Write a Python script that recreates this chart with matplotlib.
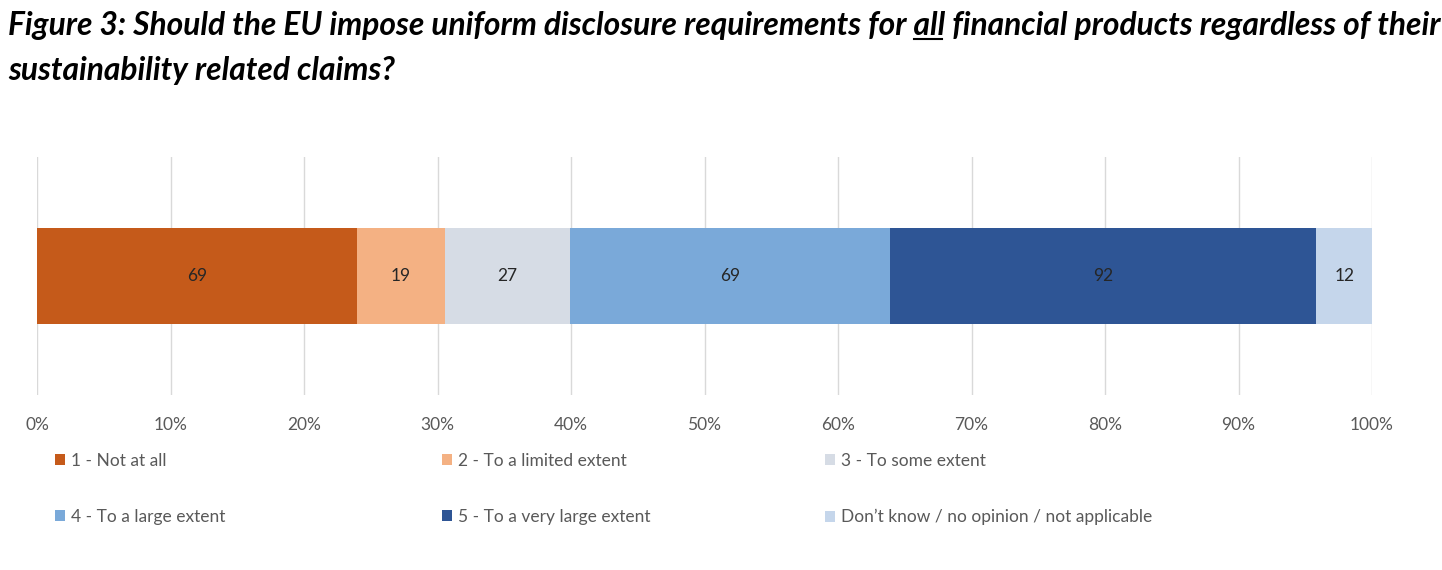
import matplotlib
matplotlib.use("Agg")
import matplotlib.pyplot as plt
import numpy as np

# data
categories = ["1 - Not at all", "2 - To a limited extent", "3 - To some extent",
              "4 - To a large extent", "5 - To a very large extent",
              "Don\u2019t know / no opinion / not applicable"]
counts = [69, 19, 27, 69, 92, 12]
colors = ["#C55A1A", "#F4B183", "#D6DCE5", "#7AA9D9", "#2E5595", "#C5D6EB"]
xticks = np.arange(0, 101, 10)

title_pre = "Figure 3: Should the EU impose uniform disclosure requirements for "
title_ul = "all"
title_post = " financial products regardless of their"
title_line2 = "sustainability related claims?"

W, H = 1442, 570
fig = plt.figure(figsize=(W / 100, H / 100), dpi=100)
ax = fig.add_axes([37 / W, 1 - 395 / H, (1372 - 37) / W, (395 - 157) / H])

shares = np.array(counts) / sum(counts) * 100
left = 0
for val, sh, col, lab in zip(counts, shares, colors, categories):
    ax.barh(0, sh, left=left, height=0.403, color=col, label=lab, zorder=3)
    ax.text(left + sh / 2, 0, str(val), ha="center", va="center",
            fontsize=12.5, color="#262626", family="Lato", zorder=4)
    left += sh

ax.set_xlim(0, 100)
ax.set_ylim(-0.5, 0.5)
ax.set_yticks([])
ax.set_xticks(xticks)
ax.set_xticklabels([f"{t}%" for t in xticks], fontsize=12.5, color="#595959", family="Lato")
ax.tick_params(axis="x", length=0, pad=16)
ax.grid(axis="x", color="#D9D9D9", linewidth=1, zorder=0)
for s in ax.spines.values():
    s.set_visible(False)

# legend, three columns of two rows
handles, labels = ax.get_legend_handles_labels()
col_x = [55, 442, 825]
for c in range(3):
    idx = [c, c + 3]
    fig.legend([handles[i] for i in idx], [labels[i] for i in idx],
               loc="upper left", bbox_to_anchor=(col_x[c] / W, 1 - 453 / H),
               frameon=False, handlelength=0.6, handleheight=0.6,
               handletextpad=0.3, labelspacing=2.3, borderpad=0, borderaxespad=0,
               labelcolor="#595959", prop={"family": "Lato", "size": 12.5})

# title with underlined word
tkw = dict(fontsize=22.9, fontweight="bold", fontstyle="italic", family="Lato", color="black")
fig.text(8 / W, 1 - 35 / H, title_pre + title_ul + title_post, va="baseline", **tkw)
fig.text(8 / W, 1 - 80 / H, title_line2, va="baseline", **tkw)
fig.canvas.draw()
r = fig.canvas.get_renderer()
tmp1 = fig.text(0, 0, title_pre + title_ul, **tkw)
tmp2 = fig.text(0, 0, title_ul, **tkw)
w1 = tmp1.get_window_extent(r).width
w2 = tmp2.get_window_extent(r).width
tmp1.remove()
tmp2.remove()
x_end = 8 + w1
x_start = x_end - w2
fig.add_artist(plt.Line2D([x_start / W, (x_end - 3) / W], [1 - 39 / H, 1 - 39 / H],
                          color="black", linewidth=1.5, transform=fig.transFigure))

fig.savefig("out.png", dpi=100)
